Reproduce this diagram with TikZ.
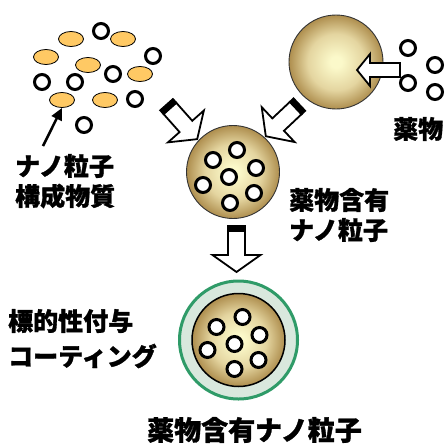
\documentclass[tikz,border=0pt]{standalone}
\usepackage{fontspec}
\newfontfamily\jp{Noto Sans CJK JP}[BoldFeatures={FakeBold=1.2}]
\usetikzlibrary{arrows.meta,shapes.geometric,calc}

\definecolor{carrierfill}{HTML}{FFC964}
\definecolor{gcenter}{HTML}{FBF9CA}
\definecolor{gmid}{HTML}{E4D5A0}
\definecolor{gedge}{HTML}{AE8E4E}
\definecolor{coatgreen}{HTML}{2F9B68}
\definecolor{coatfill}{HTML}{D9E8DD}

% radial gold gradient; the node outline sits at 25bp
\pgfdeclareradialshading{goldball}{\pgfpoint{0bp}{0bp}}{%
  color(0bp)=(gcenter); color(3bp)=(gcenter); color(15bp)=(gmid);
  color(25bp)=(gedge); color(50bp)=(gedge)}

\tikzset{
  drug/.style={circle, draw=black, line width=3pt, fill=white,
    minimum size=15pt, inner sep=0pt},
  carrier/.style={ellipse, draw=black, line width=0.8pt, fill=carrierfill,
    minimum width=25pt, minimum height=15pt, inner sep=0pt},
  sphere/.style={circle, draw=black!80, line width=0.9pt, shading=goldball,
    inner sep=0pt},
  jlabel/.style={font=\jp\bfseries\fontsize{25}{30}\selectfont, inner sep=0pt,
    anchor=west},
  blockarrow/.pic={
    \draw[line width=1.8pt, fill=white, line join=miter]
      (6,-8.5) -- (30,-8.5) -- (30,-24) -- (47,0) -- (30,24) -- (30,8.5)
      -- (6,8.5) -- cycle;
    \fill[black] (0,-9.4) rectangle (6.5,9.4);
  },
  plainarrow/.pic={
    \draw[line width=1.8pt, fill=white, line join=miter]
      (0,-7) -- (30,-7) -- (30,-16) -- (43,0) -- (30,16) -- (30,7)
      -- (0,7) -- cycle;
  },
}

\begin{document}
\begin{tikzpicture}[x=1pt, y=-1pt]
\useasboundingbox (0,0) rectangle (446,444);
\clip (0,0) rectangle (446,444);

% raw materials: carrier molecules and drug particles
\foreach \n/\x/\y in {1/71/39, 2/123/39, 3/46/57, 4/88/65, 5/140/74, 6/62/100, 7/105/100}
  \node[carrier] (e\n) at (\x,\y) {};
\foreach \n/\x/\y in {1/101/31, 2/153/56, 3/42/82, 4/75/82, 5/113/74, 6/135/99, 7/84/125}
  \node[drug] (c\n) at (\x,\y) {};

% pointer to the carrier material
\coordinate (ptr) at (43,146);
\draw[line width=2.5pt, -{Triangle[length=12pt,width=11pt]}] (ptr) -- (e6.south);
\node[jlabel] (lblA) at (15,166) {ナノ粒子};
\node[jlabel] (lblB) at (15,196) {構成物質};

% empty nanoparticle loaded with drug
\node[sphere, minimum size=94pt] (empty) at (336,62) {};
\foreach \n/\x/\y in {1/408/48, 2/435/65, 3/408/83, 4/435/92}
  \node[drug] (d\n) at (\x,\y) {};
\pic[rotate=180] at (400,70) {plainarrow};
\node[jlabel] (lblDrug) at (393,129) {薬物};

% drug-loaded nanoparticle
\node[sphere, minimum size=93pt] (loaded) at (233,172) {};
\foreach \n/\dx/\dy in {1/-20/-12, 2/4/-22, 3/23/-4, 4/-4/5, 5/-30/13, 6/21/21, 7/-3/31}
  \node[drug] (m\n) at ($(loaded.center)+(\dx,\dy)$) {};
\pic[rotate=-48.4] at (166,104) {blockarrow};
\pic[rotate=-136.7] at (300,104) {blockarrow};
\node[jlabel] (lblC) at (289,200) {薬物含有};
\node[jlabel] (lblD) at (289,230) {ナノ粒子};

% coated nanoparticle
\pic[rotate=-90] at (236.5,225) {blockarrow};
\node[circle, draw=coatgreen, line width=3pt, fill=coatfill, minimum size=118pt,
  inner sep=0pt] (coat) at (238.5,340) {};
\node[sphere, draw=black, line width=1.5pt, minimum size=93pt] (core) at (238.5,340) {};
\foreach \n/\dx/\dy in {1/-22/-13, 2/4/-23, 3/21/-5, 4/-4/4, 5/-31/10, 6/20/20, 7/-4/29}
  \node[drug] (b\n) at ($(core.center)+(\dx,\dy)$) {};
\node[jlabel] (lblE) at (8,321) {標的性付与};
\node[jlabel] (lblF) at (8,356) {コーティング};
\node[jlabel, anchor=center, font=\jp\bfseries\fontsize{27}{32}\selectfont] (lblG)
  at (254.5,430) {薬物含有ナノ粒子};
\end{tikzpicture}
\end{document}
